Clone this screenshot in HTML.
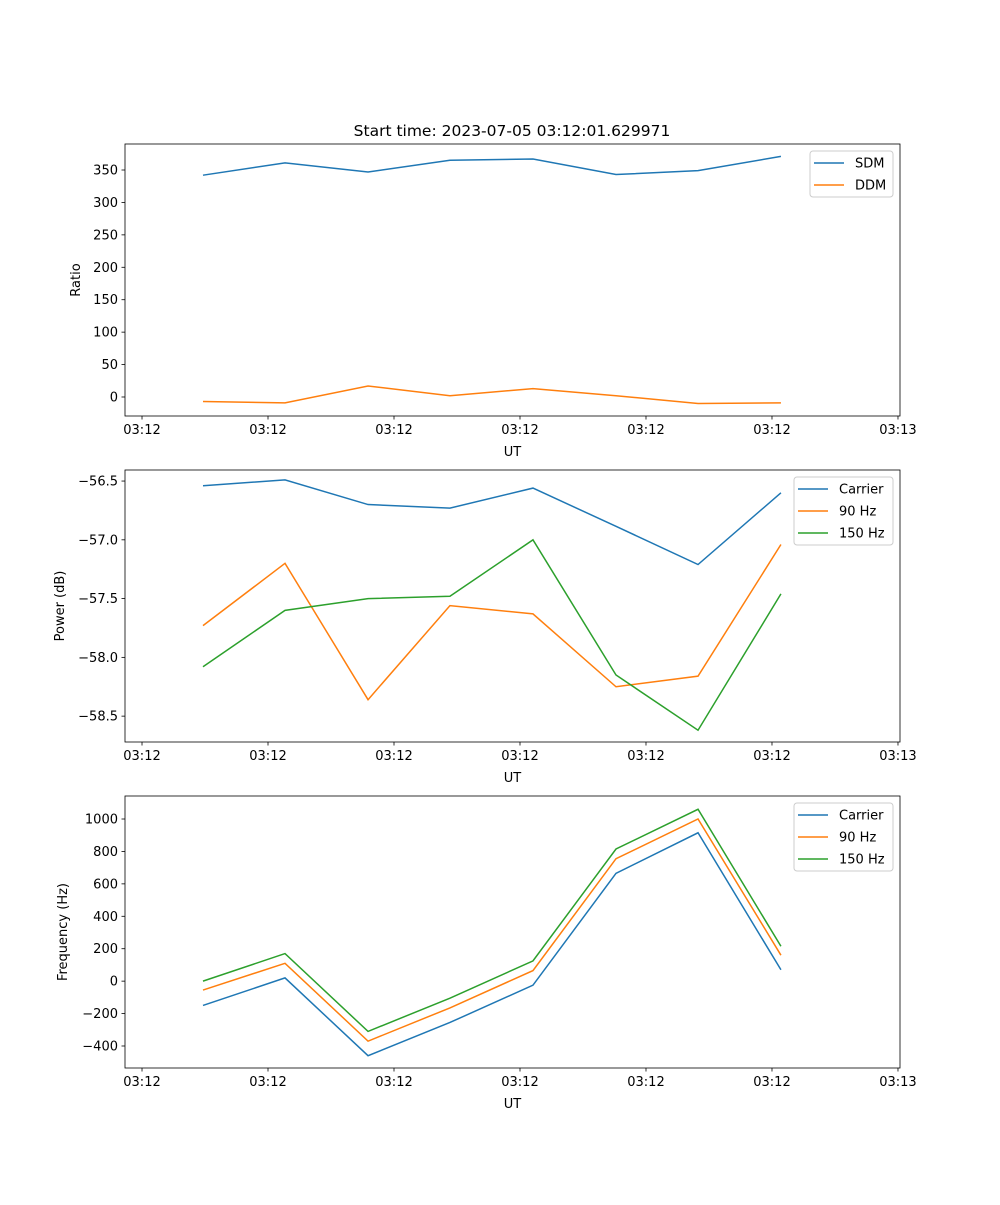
<!DOCTYPE html>
<html><head><meta charset="utf-8"><style>
body{margin:0;background:#fff}
svg text{font-family:"DejaVu Sans","Liberation Sans",sans-serif;font-size:13px;fill:#000}
</style></head><body>
<svg id="fig" width="1000" height="1200" xmlns="http://www.w3.org/2000/svg">
<text x="512" y="136" text-anchor="middle" style="font-size:15.5px">Start time: 2023-07-05 03:12:01.629971</text>
</svg>
<script>
const times = [4.84, 11.35, 17.94, 24.44, 31.03, 37.62, 44.13, 50.71];
const xTicks = [0, 10, 20, 30, 40, 50, 60];
const xTickLabels = ["03:12","03:12","03:12","03:12","03:12","03:12","03:13"];
const sdm = [342, 361, 347, 365, 367, 343, 349, 371];
const ddm = [-7, -9, 17, 2, 13, 2, -10, -9];
const ratioTicks = [0, 50, 100, 150, 200, 250, 300, 350];
const pwrCarrier = [-56.54, -56.49, -56.70, -56.73, -56.56, -56.885, -57.21, -56.60];
const pwr90 = [-57.73, -57.20, -58.36, -57.56, -57.63, -58.25, -58.16, -57.04];
const pwr150 = [-58.08, -57.60, -57.50, -57.48, -57.00, -58.15, -58.62, -57.46];
const pwrTicks = [-58.5, -58.0, -57.5, -57.0, -56.5];
const frqCarrier = [-150, 20, -460, -255, -25, 665, 915, 70];
const frq90 = [-55, 110, -370, -165, 65, 755, 1000, 160];
const frq150 = [0, 170, -310, -105, 125, 815, 1060, 215];
const frqTicks = [-400, -200, 0, 200, 400, 600, 800, 1000];

const NS = "http://www.w3.org/2000/svg";
const svg = document.getElementById('fig');
const L = 125, R = 900;
const xMin = -1.35, xMax = 60.16;
const xs = v => L + (v - xMin) / (xMax - xMin) * (R - L);
function mk(tag, attrs, parent) {
  const e = document.createElementNS(NS, tag);
  for (const k in attrs) e.setAttribute(k, attrs[k]);
  (parent || svg).appendChild(e);
  return e;
}
const C = ['#1f77b4', '#ff7f0e', '#2ca02c'];
function panel(name, top, bot, yMin, yMax, yTicks, fmt, ylabel, series, labels, legW) {
  const g = mk('g', {});
  
  
  const ys = v => bot - (v - yMin) / (yMax - yMin) * (bot - top);
  // series
  series.forEach((s, i) => {
    const p = mk('polyline', { points: s.map((v, j) => xs(times[j]) + ',' + ys(v)).join(' '), fill: 'none', stroke: C[i], 'stroke-width': 1.5 }, g);
    
    
  });
  const fr = mk('rect', { x: L, y: top, width: R - L, height: bot - top, fill: 'none', stroke: '#000', 'stroke-width': 0.8 }, g);
  
  
  xTicks.forEach((t, i) => {
    const x = xs(t);
    mk('line', { x1: x, x2: x, y1: bot, y2: bot + 3.5, stroke: '#000', 'stroke-width': 0.8 }, g);
    const tx = mk('text', { x: x, y: bot + 18, 'text-anchor': 'middle' }, g);
    tx.textContent = xTickLabels[i];
    
    
  });
  yTicks.forEach(t => {
    const y = ys(t);
    mk('line', { x1: L - 3.5, x2: L, y1: y, y2: y, stroke: '#000', 'stroke-width': 0.8 }, g);
    const tx = mk('text', { x: L - 7, y: y + 4.5, 'text-anchor': 'end' }, g);
    tx.textContent = fmt(t);
    
    
  });
  const xl = mk('text', { x: (L + R) / 2, y: bot + 40, 'text-anchor': 'middle' }, g);
  xl.textContent = 'UT';
  
  
  const yx = ylabel.x, yc = (top + bot) / 2;
  const yl = mk('text', { x: yx, y: yc, 'text-anchor': 'middle', transform: 'rotate(-90 ' + yx + ' ' + yc + ')' }, g);
  yl.textContent = ylabel.t;
  
  
  // legend
  const lx = R - 7 - legW, ly = top + 7, lh = 22 * labels.length + 2;
  const lg = mk('g', {}, g);
  
  
  mk('rect', { x: lx, y: ly, width: legW, height: lh, rx: 3, fill: '#fff', 'fill-opacity': 0.8, stroke: '#ccc', 'stroke-width': 1 }, lg);
  labels.forEach((lab, i) => {
    const yy = ly + 12 + i * 22;
    const ln = mk('line', { x1: lx + 4, x2: lx + 34, y1: yy, y2: yy, stroke: C[i], 'stroke-width': 1.5 }, lg);
    
    
    const t = mk('text', { x: lx + 45, y: yy + 4.5 }, lg);
    t.textContent = lab;
    
    
  });
}
panel('ratio', 144, 416, -29.3, 390.1, ratioTicks, v => String(v), { x: 80, t: 'Ratio' }, [sdm, ddm], ['SDM', 'DDM'], 83);
panel('power', 470, 742, -58.72, -56.406, pwrTicks, v => '\u2212' + Math.abs(v).toFixed(1), { x: 64, t: 'Power (dB)' }, [pwrCarrier, pwr90, pwr150], ['Carrier', '90 Hz', '150 Hz'], 99);
panel('frequency', 796, 1068, -535.7, 1141.9, frqTicks, v => (v < 0 ? '\u2212' : '') + Math.abs(v), { x: 67, t: 'Frequency (Hz)' }, [frqCarrier, frq90, frq150], ['Carrier', '90 Hz', '150 Hz'], 99);
</script>
</body></html>
